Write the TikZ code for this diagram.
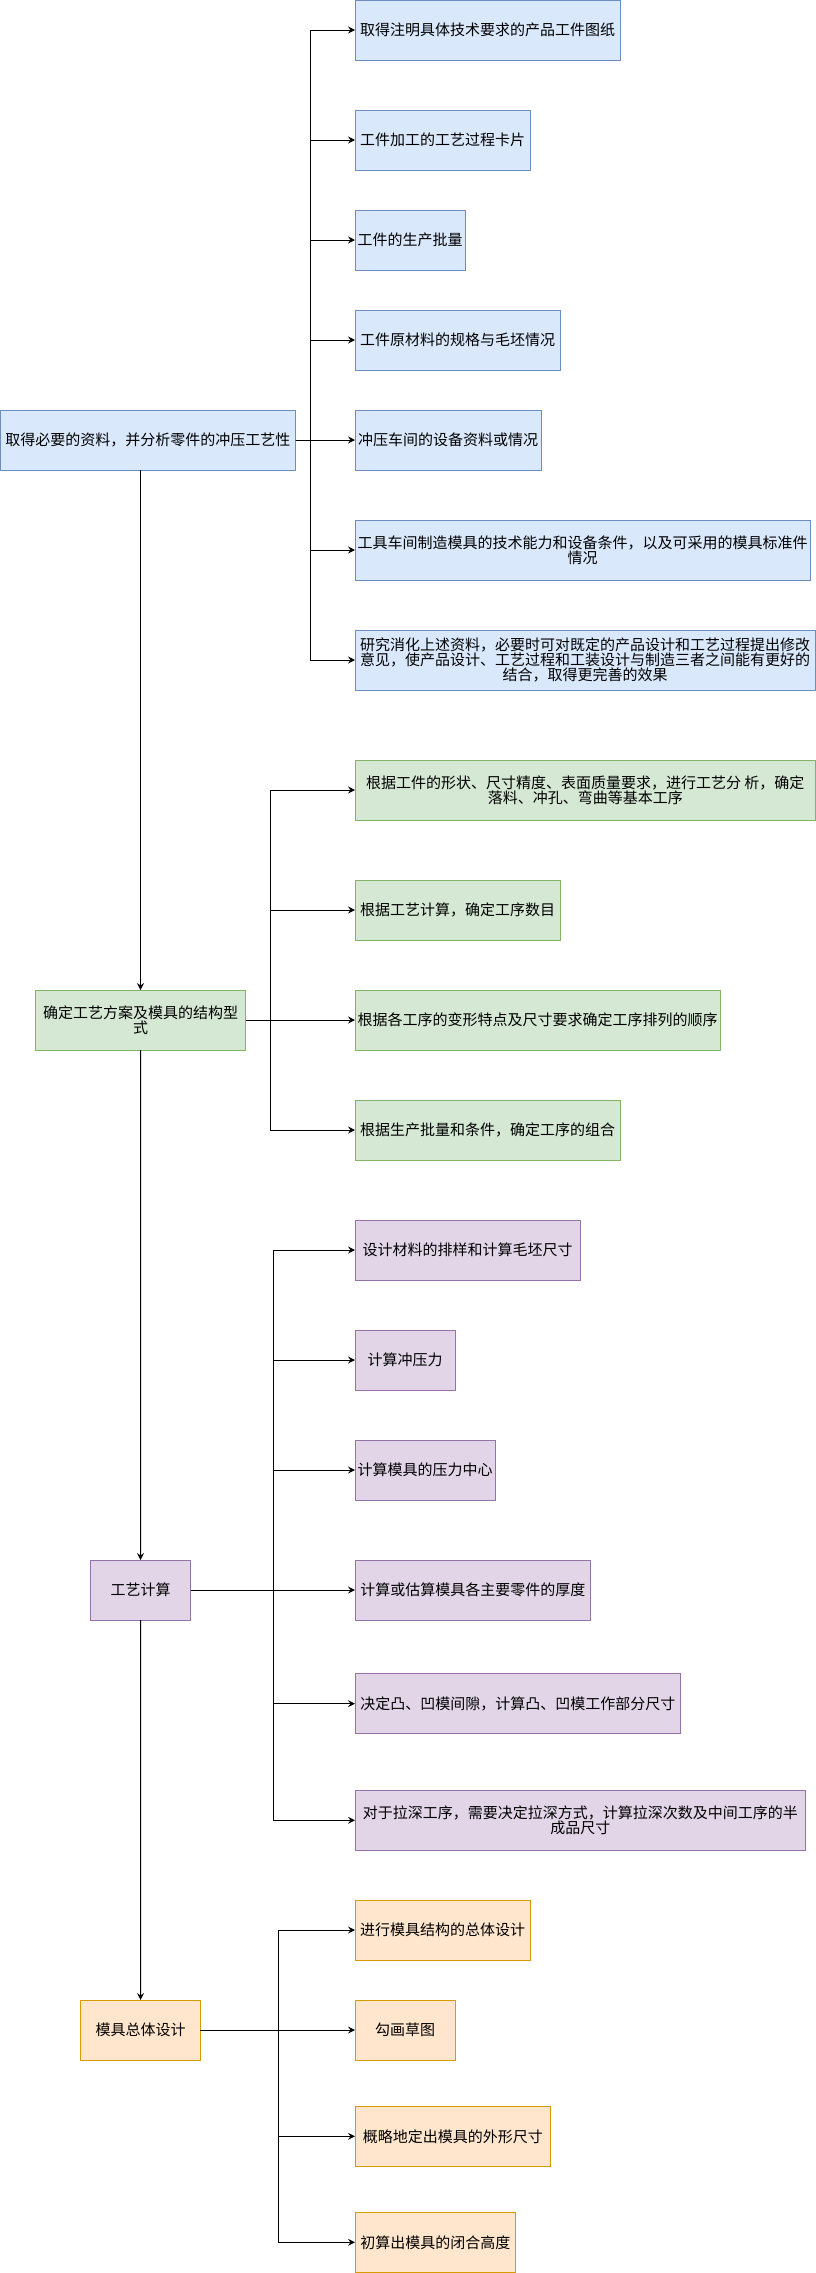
\documentclass[tikz,border=0pt]{standalone}
\usepackage{fontspec}
\newfontfamily\cjk{Noto Sans CJK SC}
\usetikzlibrary{arrows.meta}
\definecolor{bfill}{HTML}{DAE8FC}\definecolor{bline}{HTML}{6C8EBF}
\definecolor{gfill}{HTML}{D5E8D4}\definecolor{gline}{HTML}{82B366}
\definecolor{pfill}{HTML}{E1D5E7}\definecolor{pline}{HTML}{9673A6}
\definecolor{ofill}{HTML}{FFE6CC}\definecolor{oline}{HTML}{D79B00}
\tikzset{
  box/.style={draw, line width=1pt, inner sep=0pt, outer sep=0pt, anchor=north west, minimum height=60pt,
    align=center, font=\cjk\fontsize{15}{15.3}\selectfont},
  bbox/.style={box, fill=bfill, draw=bline},
  gbox/.style={box, fill=gfill, draw=gline},
  pbox/.style={box, fill=pfill, draw=pline},
  obox/.style={box, fill=ofill, draw=oline},
  arr/.style={line width=1pt, -{Stealth[length=7pt,width=7pt,inset=2.5pt]}},
}
\begin{document}
\begin{tikzpicture}[x=1pt,y=-1pt]
\useasboundingbox (0,0) rectangle (816,2273);
% group 1
\node[bbox, minimum width=295.6pt] (m1) at (0,410) {取得必要的资料，并分析零件的冲压工艺性};
\node[bbox, minimum width=265pt] (b1) at (355,0) {取得注明具体技术要求的产品工件图纸};
\node[bbox, minimum width=175pt] (b2) at (355,110) {工件加工的工艺过程卡片};
\node[bbox, minimum width=110pt] (b3) at (355,210) {工件的生产批量};
\node[bbox, minimum width=205pt] (b4) at (355,310) {工件原材料的规格与毛坯情况};
\node[bbox, minimum width=186pt] (b5) at (355,410) {冲压车间的设备资料或情况};
\node[bbox, minimum width=455pt] (b6) at (355,520) {工具车间制造模具的技术能力和设备条件，以及可采用的模具标准件\\情况};
\node[bbox, minimum width=460pt] (b7) at (355,630) {研究消化上述资料，必要时可对既定的产品设计和工艺过程提出修改\\意见，使产品设计、工艺过程和工装设计与制造三者之间能有更好的\\结合，取得更完善的效果};
\coordinate (s1) at (310.7,440);
\foreach \n in {b1,b2,b3,b4,b6,b7} \draw[arr] (m1.east) -- (m1.east -| s1) |- (\n.west);
\draw[arr] (m1.east) -- (b5.west);
% group 2
\node[gbox, minimum width=210.2pt] (m2) at (35.4,990) {确定工艺方案及模具的结构型\\式};
\node[gbox, minimum width=460.5pt] (g1) at (355,760) {根据工件的形状、尺寸精度、表面质量要求，进行工艺分 析，确定\\落料、冲孔、弯曲等基本工序};
\node[gbox, minimum width=205pt] (g2) at (355,880) {根据工艺计算，确定工序数目};
\node[gbox, minimum width=365.2pt] (g3) at (355,990) {根据各工序的变形特点及尺寸要求确定工序排列的顺序};
\node[gbox, minimum width=265pt] (g4) at (355,1100) {根据生产批量和条件，确定工序的组合};
\coordinate (s2) at (270.6,1020);
\foreach \n in {g1,g2,g4} \draw[arr] (m2.east) -- (m2.east -| s2) |- (\n.west);
\draw[arr] (m2.east) -- (g3.west);
% group 3
\node[pbox, minimum width=100pt] (m3) at (90.5,1560) {工艺计算};
\node[pbox, minimum width=225.2pt] (p1) at (355,1220) {设计材料的排样和计算毛坯尺寸};
\node[pbox, minimum width=100.3pt] (p2) at (355,1330) {计算冲压力};
\node[pbox, minimum width=140.4pt] (p3) at (355,1440) {计算模具的压力中心};
\node[pbox, minimum width=235.7pt] (p4) at (355,1560) {计算或估算模具各主要零件的厚度};
\node[pbox, minimum width=325.7pt] (p5) at (355,1673.7) {决定凸、凹模间隙，计算凸、凹模工作部分尺寸};
\node[pbox, minimum width=450.6pt] (p6) at (355,1790.3) {对于拉深工序，需要决定拉深方式，计算拉深次数及中间工序的半\\成品尺寸};
\coordinate (s3) at (273.7,1590);
\foreach \n in {p1,p2,p3,p5,p6} \draw[arr] (m3.east) -- (m3.east -| s3) |- (\n.west);
\draw[arr] (m3.east) -- (p4.west);
% group 4
\node[obox, minimum width=119.7pt] (m4) at (80.7,2000) {模具总体设计};
\node[obox, minimum width=175pt] (o1) at (355,1900) {进行模具结构的总体设计};
\node[obox, minimum width=100.3pt] (o2) at (355,2000) {勾画草图};
\node[obox, minimum width=195.6pt] (o3) at (355,2106.3) {概略地定出模具的外形尺寸};
\node[obox, minimum width=160.7pt] (o4) at (355,2212.3) {初算出模具的闭合高度};
\coordinate (s4) at (278.4,2030);
\foreach \n in {o1,o3,o4} \draw[arr] (m4.east) -- (m4.east -| s4) |- (\n.west);
\draw[arr] (m4.east) -- (o2.west);
% main chain
\draw[arr] (m1.south -| m2.north) -- (m2.north);
\draw[arr] (m2.south) -- (m3.north);
\draw[arr] (m3.south) -- (m4.north);
\end{tikzpicture}
\end{document}
